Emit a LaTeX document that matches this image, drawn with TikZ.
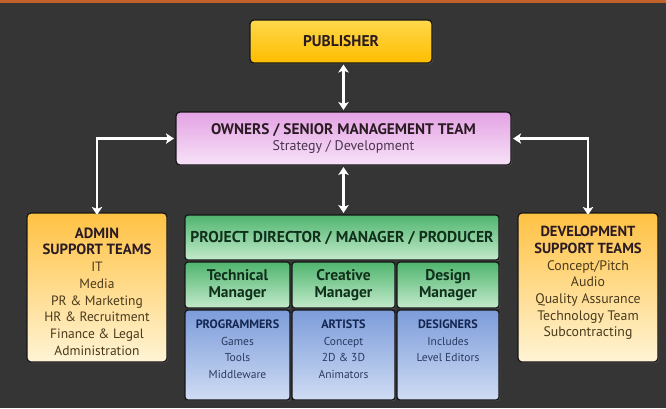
\documentclass[tikz,border=0pt]{standalone}
\usepackage{fontspec}
\setmainfont{PT Sans}
\usetikzlibrary{arrows.meta,shadows}
\definecolor{bg}{HTML}{353535}
\definecolor{stripe}{HTML}{C2622A}
\definecolor{edge}{HTML}{161616}
\definecolor{pubtop}{HTML}{FFD84A}
\definecolor{pubbot}{HTML}{FDBD00}
\definecolor{owntop}{HTML}{E3A2E4}
\definecolor{ownbot}{HTML}{F8E2F8}
\definecolor{suptop}{HTML}{FFC243}
\definecolor{supbot}{HTML}{FFF4D6}
\definecolor{grntop}{HTML}{4FB56E}
\definecolor{grnbot}{HTML}{C3EACB}
\definecolor{blutop}{HTML}{7C9CDA}
\definecolor{blubot}{HTML}{CFDCF4}
\definecolor{headtxt}{HTML}{2A1A22}
\definecolor{owntxt}{HTML}{4A3450}
\definecolor{suptxt}{HTML}{4A3A1C}
\definecolor{grntxt}{HTML}{10301C}
\definecolor{blutxt}{HTML}{142650}
\definecolor{bluitem}{HTML}{2A3A60}
\begin{document}
\begin{tikzpicture}[x=1pt,y=-1pt,
  boxbase/.style={draw=edge, line width=1.2pt, rounded corners=4pt, inner sep=0pt,
    drop shadow={opacity=0.45, shadow xshift=1pt, shadow yshift=-1pt}},
  pubbox/.style={boxbase, top color=pubtop, bottom color=pubbot},
  ownbox/.style={boxbase, top color=owntop, bottom color=ownbot},
  supbox/.style={boxbase, top color=suptop, bottom color=supbot},
  grnbox/.style={boxbase, rounded corners=3pt, top color=grntop, bottom color=grnbot},
  blubox/.style={boxbase, rounded corners=3pt, top color=blutop, bottom color=blubot},
  arrowout/.style={draw=black!80, line width=3.8pt,
    {Stealth[length=9.5pt,width=13pt,inset=2.5pt]}-{Stealth[length=9.5pt,width=13pt,inset=2.5pt]}},
  arrowin/.style={draw=white, line width=2.2pt,
    {Stealth[length=8pt,width=10.5pt,inset=2pt]}-{Stealth[length=8pt,width=10.5pt,inset=2pt]}},
  lbl/.style={align=center, inner sep=0pt},
]
% background
\fill[bg] (0,0) rectangle (666,408);
\fill[stripe] (0,0) rectangle (666,3);
\useasboundingbox (0,0) rectangle (666,408);

% boxes
\node[pubbox, minimum width=182pt, minimum height=43pt] (pub) at (341,41.5) {};
\node[ownbox, minimum width=335pt, minimum height=53pt] (own) at (343.5,138.5) {};
\node[supbox, minimum width=140pt, minimum height=149pt] (admin) at (97,287.5) {};
\node[supbox, minimum width=140pt, minimum height=149pt] (dev) at (588,287.5) {};
\node[grnbox, minimum width=314pt, minimum height=45pt] (proj) at (342,237.5) {};
\node[grnbox, minimum width=105pt, minimum height=46pt] (tech) at (237.5,285) {};
\node[grnbox, minimum width=103pt, minimum height=46pt] (crea) at (343.5,285) {};
\node[grnbox, minimum width=102pt, minimum height=46pt] (desm) at (448,285) {};
\node[blubox, minimum width=105pt, minimum height=90pt] (prog) at (237.5,355) {};
\node[blubox, minimum width=103pt, minimum height=90pt] (art) at (343.5,355) {};
\node[blubox, minimum width=102pt, minimum height=90pt] (desg) at (448,355) {};

% texts
\node[lbl, text=headtxt, font=\fontsize{15.5}{17}\selectfont\bfseries] (pubt) at (pub.center) {PUBLISHER};
\node[lbl, text=headtxt, font=\fontsize{15.3}{17}\selectfont\bfseries] (ownt) at (343.5,130) {OWNERS / SENIOR MANAGEMENT TEAM};
\node[lbl, text=owntxt, font=\fontsize{14}{16}\selectfont] (owns) at (343.5,147) {Strategy / Development};

\node[lbl, font=\fontsize{13.5}{16.7}\selectfont] (admint) at (97,291.5)
  {\textcolor{headtxt}{\fontsize{14.8}{16.7}\selectfont\bfseries ADMIN}\\ \textcolor{headtxt}{\fontsize{14.8}{16.7}\selectfont\bfseries SUPPORT TEAMS}\\
   \textcolor{suptxt}{IT}\\ \textcolor{suptxt}{Media}\\ \textcolor{suptxt}{PR \& Marketing}\\
   \textcolor{suptxt}{HR \& Recruitment}\\ \textcolor{suptxt}{Finance \& Legal}\\ \textcolor{suptxt}{Administration}};
\node[lbl, font=\fontsize{13.8}{16.7}\selectfont] (devt) at (588,283)
  {\textcolor{headtxt}{\fontsize{14.6}{16.7}\selectfont\bfseries DEVELOPMENT}\\ \textcolor{headtxt}{\fontsize{14.6}{16.7}\selectfont\bfseries SUPPORT TEAMS}\\
   \textcolor{suptxt}{Concept/Pitch}\\ \textcolor{suptxt}{Audio}\\ \textcolor{suptxt}{Quality Assurance}\\
   \textcolor{suptxt}{Technology Team}\\ \textcolor{suptxt}{Subcontracting}};

\node[lbl, text=grntxt, font=\fontsize{15.7}{17}\selectfont\bfseries] (projt) at (proj.center) {PROJECT DIRECTOR / MANAGER / PRODUCER};
\node[lbl, text=grntxt, font=\fontsize{15.5}{16.5}\selectfont\bfseries] (techt) at (tech.center) {Technical\\Manager};
\node[lbl, text=grntxt, font=\fontsize{15.5}{16.5}\selectfont\bfseries] (creat) at (crea.center) {Creative\\Manager};
\node[lbl, text=grntxt, font=\fontsize{15.5}{16.5}\selectfont\bfseries] (desmt) at (desm.center) {Design\\Manager};

\node[lbl, anchor=north, font=\fontsize{11.5}{16.5}\selectfont] (progt) at (237.5,320)
  {\textcolor{blutxt}{\fontsize{12.2}{16.5}\selectfont\bfseries PROGRAMMERS}\\ \textcolor{bluitem}{Games}\\ \textcolor{bluitem}{Tools}\\ \textcolor{bluitem}{Middleware}};
\node[lbl, anchor=north, font=\fontsize{11.5}{16.5}\selectfont] (artt) at (343.5,320)
  {\textcolor{blutxt}{\fontsize{12.2}{16.5}\selectfont\bfseries ARTISTS}\\ \textcolor{bluitem}{Concept}\\ \textcolor{bluitem}{2D \& 3D}\\ \textcolor{bluitem}{Animators}};
\node[lbl, anchor=north, font=\fontsize{11.5}{16.5}\selectfont] (desgt) at (448,320)
  {\textcolor{blutxt}{\fontsize{12.2}{16.5}\selectfont\bfseries DESIGNERS}\\ \textcolor{bluitem}{Includes}\\ \textcolor{bluitem}{Level Editors}};

% connectors
\coordinate (c1a) at (343.5,64.5);
\coordinate (c1b) at (343.5,110);
\coordinate (c2a) at (343.5,167);
\coordinate (c2b) at (343.5,213);
\foreach \s in {arrowout,arrowin}{
  \draw[\s] (c1a) -- (c1b);
  \draw[\s] (c2a) -- (c2b);
  \draw[\s] ([xshift=-1.5pt]own.west) -| ([yshift=-2.5pt]admin.north);
  \draw[\s] ([xshift=1.5pt]own.east) -| ([yshift=-2.5pt]dev.north);
}
\end{tikzpicture}
\end{document}
